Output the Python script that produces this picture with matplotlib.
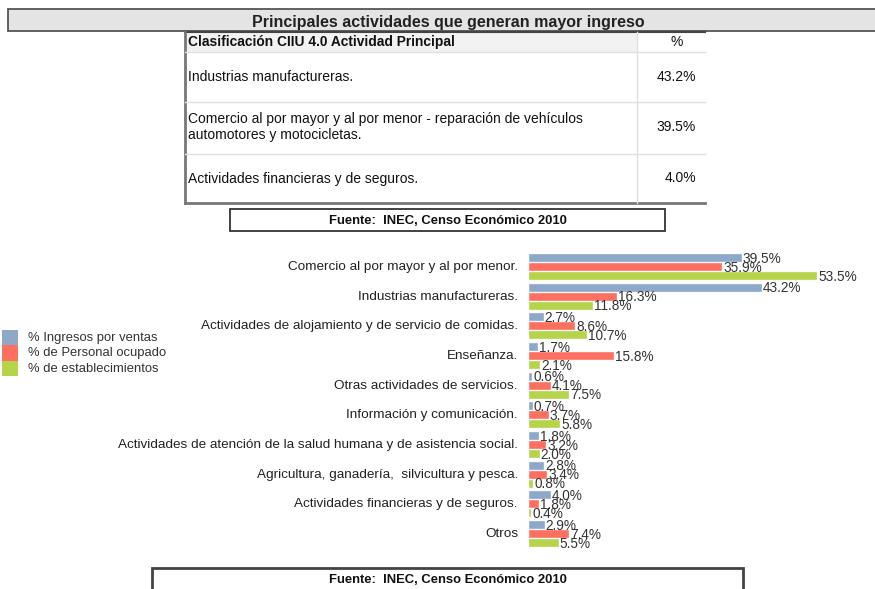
import numpy as np
import matplotlib.pyplot as plt
from matplotlib.patches import Rectangle

# table data
table_rows = ["Industrias manufactureras.",
              "Comercio al por mayor y al por menor - reparación de vehículos\nautomotores y motocicletas.",
              "Actividades financieras y de seguros."]
table_vals = ["43.2%", "39.5%", "4.0%"]

# bar chart data
categories = ["Comercio al por mayor y al por menor.",
              "Industrias manufactureras.",
              "Actividades de alojamiento y de servicio de comidas.",
              "Enseñanza.",
              "Otras actividades de servicios.",
              "Información y comunicación.",
              "Actividades de atención de la salud humana y de asistencia social.",
              "Agricultura, ganadería,  silvicultura y pesca.",
              "Actividades financieras y de seguros.",
              "Otros"]
ingresos = [39.5, 43.2, 2.7, 1.7, 0.6, 0.7, 1.8, 2.8, 4.0, 2.9]
personal = [35.9, 16.3, 8.6, 15.8, 4.1, 3.7, 3.2, 3.4, 1.8, 7.4]
establec = [53.5, 11.8, 10.7, 2.1, 7.5, 5.8, 2.0, 0.8, 0.4, 5.5]
series_names = ["% Ingresos por ventas", "% de Personal ocupado", "% de establecimientos"]
colors = ["#8DA8C8", "#FF7060", "#B5D44A"]

fuente = "Fuente:  INEC, Censo Económico 2010"

W, H = 875, 589
fig = plt.figure(figsize=(W / 100, H / 100), dpi=100)

# background axes in pixel coordinates
bg = fig.add_axes([0, 0, 1, 1])
bg.set_xlim(0, W)
bg.set_ylim(H, 0)
bg.axis("off")

sans = ["Liberation Sans", "DejaVu Sans"]

# title banner
bg.add_patch(Rectangle((8, 9), 880, 22, facecolor="#e4e4e4", edgecolor="#555555", lw=1.3))
bg.text(448, 22, "Principales actividades que generan mayor ingreso", ha="center", va="center",
        fontsize=11.5, fontweight="bold", family=sans, color="#222222")

# table
bg.add_patch(Rectangle((185, 32), 452, 20, facecolor="#f2f2f2", edgecolor="none"))
bg.add_patch(Rectangle((637, 32), 68, 20, facecolor="white", edgecolor="none"))
bg.add_patch(Rectangle((185, 52), 520, 151, facecolor="white", edgecolor="none"))
bg.plot([185, 705], [32, 32], color="#444444", lw=1.5)
bg.plot([185, 185], [32, 203], color="#777777", lw=2)
bg.plot([185, 705], [203, 203], color="#777777", lw=2)
bg.plot([637, 637], [32, 203], color="#e0e0e0", lw=1)
for y in [52, 102, 154]:
    bg.plot([185, 705], [y, y], color="#e0e0e0", lw=1)
bg.text(188, 42, "Clasificación CIIU 4.0 Actividad Principal", ha="left", va="center",
        fontsize=9.9, fontweight="bold", family=sans, color="#111111")
bg.text(677, 42, "%", ha="center", va="center", fontsize=10, family=sans, color="#111111")
row_centers = [77, 127, 178.5]
for txt, val, yc in zip(table_rows, table_vals, row_centers):
    bg.text(188, yc, txt, ha="left", va="center", fontsize=10, family=sans,
            color="#111111", linespacing=1.2)
    bg.text(696, yc, val, ha="right", va="center", fontsize=10, family=sans, color="#111111")

# source boxes
bg.add_patch(Rectangle((230, 209), 435, 22, facecolor="white", edgecolor="#333333", lw=1.3))
bg.text(448, 221, fuente, ha="center", va="center", fontsize=9.4, fontweight="bold",
        family=sans, color="#111111")
bg.add_patch(Rectangle((152, 568), 591, 30, facecolor="white", edgecolor="#444444", lw=2))
bg.text(448, 580, fuente, ha="center", va="center", fontsize=9.4, fontweight="bold",
        family=sans, color="#111111")

# legend
for i, (name, c) in enumerate(zip(series_names, colors)):
    bg.add_patch(Rectangle((2, 330 + i * 15.3), 16, 15.3, facecolor=c, edgecolor="none"))
    bg.text(28, 338 + i * 15.3, name, ha="left", va="center", fontsize=9.4,
            family=sans, color="#333333")

# bar chart axes: x from 529 px, 5.383 px per %
x0, y_top, y_bot = 529, 250, 551
ax = fig.add_axes([x0 / W, 1 - y_bot / H, (W - x0) / W, (y_bot - y_top) / H])
ax.set_xlim(0, (W - x0) / 5.383)
unit = 29.67
ax.set_ylim(-0.573 + (y_bot - y_top) / unit, -0.573)
ax.axis("off")

idx = np.arange(len(categories))
step = 0.303
for k, (vals, c) in enumerate(zip([ingresos, personal, establec], colors)):
    ys = idx + (k - 1) * step
    ax.barh(ys, vals, height=0.265, color=c, edgecolor="#f4f4f4", lw=0.3)
    for y, v in zip(ys, vals):
        ax.text(v + 0.2, y + 0.02, f"{v:.1f}%", ha="left", va="center", fontsize=9.8,
                family=sans, color="#333333")

for i, cat in enumerate(categories):
    bg.text(518, 267 + i * unit, cat, ha="right", va="center", fontsize=9.7,
            family=sans, color="#222222")

fig.savefig("out.png", dpi=100)
